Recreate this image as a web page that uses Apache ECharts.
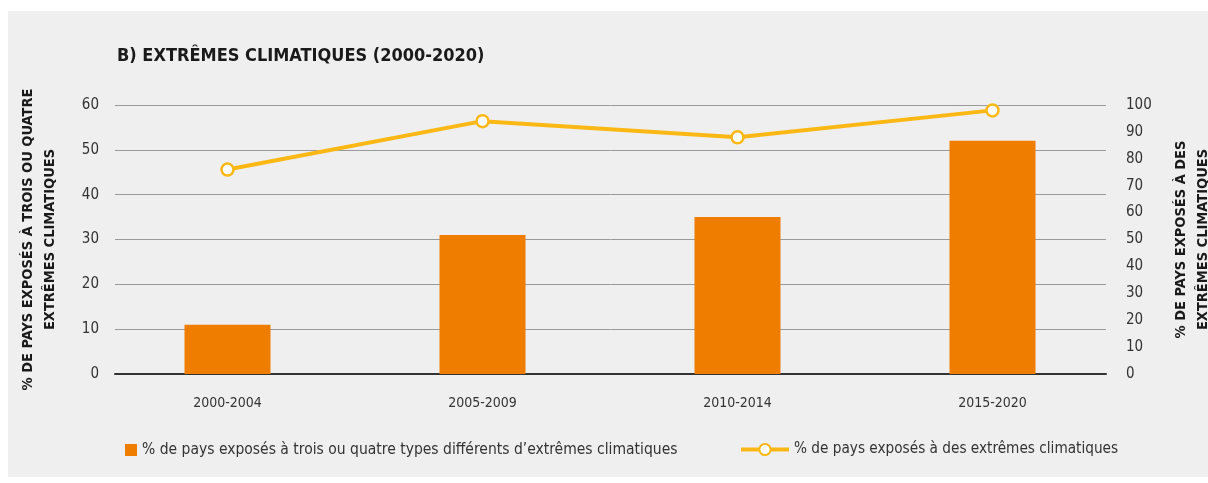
<!DOCTYPE html>
<html>
<head>
<meta charset="utf-8">
<script src="https://cdn.jsdelivr.net/npm/echarts@6/dist/echarts.min.js"></script>
<style>
  html, body { margin: 0; padding: 0; background: #ffffff; }
  #panel { position: absolute; left: 8px; top: 11px; width: 1200px; height: 466px; background: #efefef; }
  #chart { position: absolute; left: 0; top: 0; width: 1208px; height: 483px; }
</style>
</head>
<body>
<div id="panel"></div>
<div id="chart"></div>
<script>
  // données
  const periodes = ['2000-2004', '2005-2009', '2010-2014', '2015-2020'];
  const troisOuQuatre = [11, 31, 35, 52];
  const exposes = [76, 94, 88, 98];
  const ticksGauche = { min: 0, max: 60, interval: 10 };
  const ticksDroite = { min: 0, max: 100, interval: 10 };

  const nomBarres = '% de pays exposés à trois ou quatre types différents d\u2019extrêmes climatiques';
  const nomLigne = '% de pays exposés à des extrêmes climatiques';

  const police = '"Liberation Sans Narrow", "DejaVu Sans Condensed", "Roboto Condensed", sans-serif';
  const orange = '#ef7d00';
  const jaune = '#fbb814';

  const chart = echarts.init(document.getElementById('chart'));

  const option = {
    textStyle: { fontFamily: police },
    animation: false,
    title: {
      text: 'B) EXTRÊMES CLIMATIQUES (2000-2020)',
      left: 112,
      top: 42,
      textStyle: { fontFamily: police, fontSize: 18, fontWeight: 'bold', color: '#1a1a1a' }
    },
    legend: [{
      data: [{ name: nomBarres, icon: 'rect' }],
      left: 120,
      top: 437,
      itemWidth: 12,
      itemHeight: 12,
      textStyle: { fontFamily: police, fontSize: 15.5, color: '#333' }
    }, {
      data: [nomLigne],
      left: 734,
      top: 437,
      itemWidth: 48,
      itemHeight: 14,
      lineStyle: { width: 4 },
      textStyle: { fontFamily: police, fontSize: 15.2, color: '#333' }
    }],
    grid: [
      // grille des axes et lignes de repère
      { left: 115, right: 102, top: 105, bottom: 109, outerBoundsMode: 'none' },
      // grille des séries
      { left: 100, right: 88, top: 105, bottom: 109, outerBoundsMode: 'none' }
    ],
    xAxis: [{
      type: 'category',
      gridIndex: 0,
      data: periodes,
      axisLine: { show: true, lineStyle: { color: '#333', width: 2 } },
      axisTick: { show: false },
      axisLabel: { show: false }
    }, {
      type: 'category',
      gridIndex: 1,
      data: periodes,
      axisLine: { show: false },
      axisTick: { show: false },
      axisLabel: { margin: 22, fontSize: 14, color: '#333', fontFamily: police }
    }],
    yAxis: [{
      type: 'value',
      gridIndex: 0,
      min: ticksGauche.min,
      max: ticksGauche.max,
      interval: ticksGauche.interval,
      name: '% DE PAYS EXPOSÉS À TROIS OU QUATRE\nEXTRÊMES CLIMATIQUES',
      nameLocation: 'middle',
      nameGap: 54,
      nameTextStyle: { fontFamily: police, fontSize: 14.5, fontWeight: 'bold', color: '#1a1a1a', lineHeight: 22 },
      axisLine: { show: false },
      axisTick: { show: false },
      axisLabel: { margin: 16, fontSize: 15, color: '#333', fontFamily: police },
      splitLine: { lineStyle: { color: '#9a9a9a', width: 1 } }
    }, {
      type: 'value',
      gridIndex: 0,
      position: 'right',
      min: ticksDroite.min,
      max: ticksDroite.max,
      interval: ticksDroite.interval,
      name: '% DE PAYS EXPOSÉS À DES\nEXTRÊMES CLIMATIQUES',
      nameLocation: 'middle',
      nameGap: 64,
      nameTextStyle: { fontFamily: police, fontSize: 14.5, fontWeight: 'bold', color: '#1a1a1a', lineHeight: 22 },
      axisLine: { show: false },
      axisTick: { show: false },
      axisLabel: { margin: 20, fontSize: 15, color: '#333', fontFamily: police },
      splitLine: { show: false }
    }, {
      type: 'value',
      gridIndex: 1,
      min: ticksGauche.min,
      max: ticksGauche.max,
      show: false
    }, {
      type: 'value',
      gridIndex: 1,
      position: 'right',
      min: ticksDroite.min,
      max: ticksDroite.max,
      show: false
    }],
    series: [{
      name: nomBarres,
      type: 'bar',
      xAxisIndex: 1,
      yAxisIndex: 2,
      data: troisOuQuatre,
      barWidth: 86,
      itemStyle: { color: orange }
    }, {
      name: nomLigne,
      type: 'line',
      xAxisIndex: 1,
      yAxisIndex: 3,
      data: exposes,
      symbol: 'circle',
      symbolSize: 12,
      lineStyle: { color: jaune, width: 4 },
      itemStyle: { color: '#ffffff', borderColor: jaune, borderWidth: 2.5 }
    }]
  };

  chart.setOption(option);
</script>
</body>
</html>
